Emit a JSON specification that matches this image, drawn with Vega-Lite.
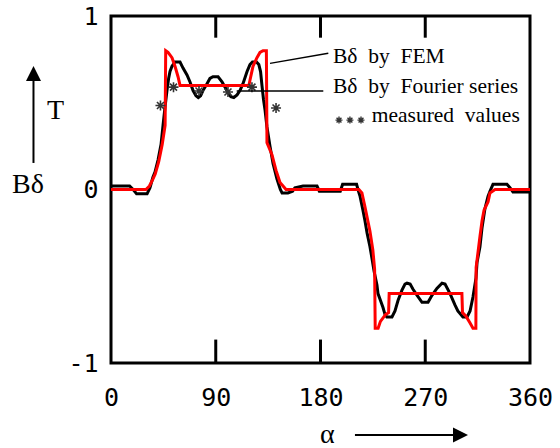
{
  "$schema": "https://vega.github.io/schema/vega-lite/v6.json",
  "width": 419,
  "height": 347,
  "autosize": {"type": "none"},
  "padding": {"left": 111, "top": 16, "right": 30, "bottom": 85},
  "background": "white",
  "config": {
    "view": {"stroke": "black", "strokeWidth": 3},
    "axis": {
      "domain": false,
      "ticks": false,
      "grid": false,
      "title": null,
      "labelFont": "DejaVu Sans Mono",
      "labelFontSize": 25,
      "labelColor": "black",
      "labelOverlap": false,
      "labelBound": false,
      "labelFlush": false
    }
  },
  "datasets": {
    "fourier": [
      {"a": 0, "b": 0.02}, {"a": 16, "b": 0.02}, {"a": 19, "b": 0.0}, {"a": 22, "b": -0.025},
      {"a": 31, "b": -0.025}, {"a": 33.5, "b": 0.01}, {"a": 36, "b": 0.07}, {"a": 37.8, "b": 0.1},
      {"a": 40.4, "b": 0.17}, {"a": 43, "b": 0.26}, {"a": 44.7, "b": 0.37}, {"a": 46.5, "b": 0.48},
      {"a": 48.1, "b": 0.57}, {"a": 49.5, "b": 0.64}, {"a": 50.7, "b": 0.68}, {"a": 52.4, "b": 0.71},
      {"a": 55, "b": 0.735}, {"a": 59.3, "b": 0.735}, {"a": 61.9, "b": 0.7}, {"a": 65.3, "b": 0.66},
      {"a": 67.9, "b": 0.62}, {"a": 70.5, "b": 0.57}, {"a": 73, "b": 0.54}, {"a": 75, "b": 0.53},
      {"a": 77, "b": 0.54}, {"a": 79, "b": 0.57}, {"a": 82.5, "b": 0.61}, {"a": 85, "b": 0.64},
      {"a": 87.6, "b": 0.65}, {"a": 92, "b": 0.65}, {"a": 95.4, "b": 0.62}, {"a": 98, "b": 0.59},
      {"a": 100.5, "b": 0.56}, {"a": 103, "b": 0.535}, {"a": 105.5, "b": 0.53}, {"a": 108.3, "b": 0.545},
      {"a": 110.8, "b": 0.57}, {"a": 113.4, "b": 0.61}, {"a": 116.9, "b": 0.68}, {"a": 119.4, "b": 0.72},
      {"a": 121.5, "b": 0.735}, {"a": 125, "b": 0.735}, {"a": 127, "b": 0.72}, {"a": 128.5, "b": 0.68},
      {"a": 129.7, "b": 0.6}, {"a": 131, "b": 0.52}, {"a": 132.3, "b": 0.46}, {"a": 134, "b": 0.36},
      {"a": 136.6, "b": 0.25}, {"a": 139.2, "b": 0.15}, {"a": 142.6, "b": 0.06}, {"a": 145.5, "b": 0.0},
      {"a": 147, "b": -0.02}, {"a": 152, "b": -0.02}, {"a": 156, "b": -0.01}, {"a": 158, "b": 0.01},
      {"a": 165, "b": 0.02}, {"a": 177, "b": 0.02}, {"a": 179, "b": -0.01}, {"a": 197, "b": -0.01},
      {"a": 199, "b": 0.03}, {"a": 211, "b": 0.03}, {"a": 212.2, "b": 0.0}, {"a": 214, "b": -0.04},
      {"a": 216.5, "b": -0.12}, {"a": 218.2, "b": -0.18}, {"a": 220, "b": -0.25}, {"a": 222.5, "b": -0.33},
      {"a": 224.3, "b": -0.4}, {"a": 226, "b": -0.47}, {"a": 228.5, "b": -0.55}, {"a": 229.4, "b": -0.6},
      {"a": 231, "b": -0.63}, {"a": 233.7, "b": -0.68}, {"a": 235.4, "b": -0.72}, {"a": 237, "b": -0.735},
      {"a": 241.4, "b": -0.735}, {"a": 244, "b": -0.7}, {"a": 246.6, "b": -0.64}, {"a": 250, "b": -0.58},
      {"a": 252.6, "b": -0.545}, {"a": 254.3, "b": -0.54}, {"a": 257, "b": -0.545}, {"a": 259.5, "b": -0.575},
      {"a": 263, "b": -0.61}, {"a": 267.2, "b": -0.65}, {"a": 272.4, "b": -0.65}, {"a": 275.8, "b": -0.61},
      {"a": 280, "b": -0.57}, {"a": 284.4, "b": -0.54}, {"a": 287, "b": -0.545}, {"a": 291.3, "b": -0.6},
      {"a": 295.5, "b": -0.665}, {"a": 298, "b": -0.7}, {"a": 302.4, "b": -0.735}, {"a": 305.9, "b": -0.735},
      {"a": 308.5, "b": -0.7}, {"a": 311, "b": -0.62}, {"a": 313.6, "b": -0.51}, {"a": 314.5, "b": -0.42},
      {"a": 317, "b": -0.33}, {"a": 318.8, "b": -0.22}, {"a": 321.3, "b": -0.11}, {"a": 323.9, "b": -0.04},
      {"a": 325.6, "b": -0.01}, {"a": 328.2, "b": 0.03}, {"a": 340.2, "b": 0.03}, {"a": 342.8, "b": 0.01},
      {"a": 345.4, "b": -0.015}, {"a": 360, "b": -0.015}
    ],
    "fem": [
      {"a": 0, "b": 0.0}, {"a": 30, "b": 0.0}, {"a": 33, "b": 0.02}, {"a": 36, "b": 0.06},
      {"a": 38, "b": 0.09}, {"a": 41, "b": 0.16}, {"a": 44, "b": 0.26}, {"a": 46.5, "b": 0.37},
      {"a": 47, "b": 0.8}, {"a": 49, "b": 0.79}, {"a": 52.4, "b": 0.76}, {"a": 55, "b": 0.71},
      {"a": 57.6, "b": 0.65}, {"a": 59.3, "b": 0.6}, {"a": 118.5, "b": 0.6}, {"a": 119.4, "b": 0.63},
      {"a": 122, "b": 0.71}, {"a": 125.4, "b": 0.76}, {"a": 128, "b": 0.79}, {"a": 130.6, "b": 0.8},
      {"a": 133.5, "b": 0.8}, {"a": 134, "b": 0.27}, {"a": 138.3, "b": 0.2}, {"a": 141.8, "b": 0.11},
      {"a": 145.2, "b": 0.04}, {"a": 150.4, "b": 0.0}, {"a": 213, "b": 0.0}, {"a": 215.6, "b": -0.02},
      {"a": 218.2, "b": -0.1}, {"a": 222.5, "b": -0.24}, {"a": 225, "b": -0.35}, {"a": 226.5, "b": -0.46},
      {"a": 227, "b": -0.8}, {"a": 229.5, "b": -0.8}, {"a": 231.5, "b": -0.76}, {"a": 236, "b": -0.72},
      {"a": 238.5, "b": -0.71}, {"a": 239, "b": -0.6}, {"a": 301.5, "b": -0.6}, {"a": 302, "b": -0.71},
      {"a": 305, "b": -0.73}, {"a": 308.5, "b": -0.77}, {"a": 311, "b": -0.8}, {"a": 313.5, "b": -0.8},
      {"a": 313.7, "b": -0.45}, {"a": 317, "b": -0.27}, {"a": 318.8, "b": -0.18}, {"a": 320.5, "b": -0.12},
      {"a": 324, "b": -0.07}, {"a": 325.6, "b": -0.02}, {"a": 330, "b": 0.0}, {"a": 360, "b": 0.0}
    ],
    "measured": [
      {"a": 42.5, "b": 0.484}, {"a": 53.7, "b": 0.59}, {"a": 75.6, "b": 0.568},
      {"a": 100.5, "b": 0.562}, {"a": 121.1, "b": 0.59}, {"a": 141.8, "b": 0.47}
    ],
    "innerTicks": [
      {"a": 90, "b": 1, "b2": 0.875}, {"a": 180, "b": 1, "b2": 0.875}, {"a": 270, "b": 1, "b2": 0.875},
      {"a": 90, "b": -1, "b2": -0.865}, {"a": 180, "b": -1, "b2": -0.865}, {"a": 270, "b": -1, "b2": -0.865}
    ],
    "leaders": [
      {"a": 136.6, "b": 0.727, "a2": 186.7, "b2": 0.785},
      {"a": 108.0, "b": 0.568, "a2": 182.4, "b2": 0.568}
    ],
    "legendText": [
      {"a": 190.7, "b": 0.728, "label": "Bδ\u00a0 by\u00a0 FEM"},
      {"a": 190.7, "b": 0.558, "label": "Bδ\u00a0 by\u00a0 Fourier series"},
      {"a": 224.0, "b": 0.387, "label": "measured\u00a0 values"}
    ],
    "legendStars": [
      {"a": 195.9, "b": 0.4}, {"a": 205.3, "b": 0.4}, {"a": 214.8, "b": 0.4}
    ],
    "arrowShafts": [
      {"a": -66.6, "b": 0.631, "a2": -66.6, "b2": 0.153},
      {"a": 209.6, "b": -1.415, "a2": 295.6, "b2": -1.415}
    ],
    "upHead": [{"a": -66.6, "b": 0.669}],
    "rightHead": [{"a": 300.3, "b": -1.415}],
    "axisNames": [
      {"a": -55.0, "b": 0.409, "label": "T"},
      {"a": -85.1, "b": -0.02, "label": "Bδ"},
      {"a": 179.6, "b": -1.461, "label": "α"}
    ]
  },
  "encoding": {
    "x": {
      "field": "a", "type": "quantitative",
      "scale": {"domain": [0, 360], "nice": false, "zero": false},
      "axis": {"values": [0, 90, 180, 270, 360], "labelPadding": 22, "labelExpr": "'' + datum.value"}
    },
    "y": {
      "field": "b", "type": "quantitative",
      "scale": {"domain": [-1, 1], "nice": false, "zero": false},
      "axis": {"values": [-1, 0, 1], "labelPadding": 13, "labelExpr": "'' + datum.value"}
    }
  },
  "layer": [
    {
      "data": {"name": "innerTicks"},
      "mark": {"type": "rule", "color": "black", "strokeWidth": 3},
      "encoding": {"y2": {"field": "b2"}}
    },
    {
      "data": {"name": "fourier"},
      "mark": {"type": "line", "color": "black", "strokeWidth": 3, "strokeJoin": "miter"},
      "encoding": {"order": {"field": "a"}}
    },
    {
      "data": {"name": "fem"},
      "mark": {"type": "line", "color": "#ff0000", "strokeWidth": 3, "strokeJoin": "miter"},
      "encoding": {"order": {"field": "a"}}
    },
    {
      "data": {"name": "measured"},
      "mark": {
        "type": "point",
        "shape": "M0,-1L0,1M-1,0L1,0M-0.7,-0.7L0.7,0.7M-0.7,0.7L0.7,-0.7",
        "filled": false, "size": 100, "stroke": "#333333", "strokeWidth": 1.6, "opacity": 1
      }
    },
    {
      "data": {"name": "leaders"},
      "mark": {"type": "rule", "color": "black", "strokeWidth": 1.5},
      "encoding": {"x2": {"field": "a2"}, "y2": {"field": "b2"}}
    },
    {
      "data": {"name": "legendText"},
      "mark": {"type": "text", "font": "Liberation Serif", "fontSize": 21.5, "align": "left", "baseline": "alphabetic", "color": "black"},
      "encoding": {"text": {"field": "label"}}
    },
    {
      "data": {"name": "legendStars"},
      "mark": {
        "type": "point",
        "shape": "M0,-1L0,1M-1,0L1,0M-0.7,-0.7L0.7,0.7M-0.7,0.7L0.7,-0.7",
        "filled": false, "size": 49, "stroke": "#333333", "strokeWidth": 1.4, "opacity": 1
      }
    },
    {
      "data": {"name": "arrowShafts"},
      "mark": {"type": "rule", "color": "black", "strokeWidth": 2},
      "encoding": {"x2": {"field": "a2"}, "y2": {"field": "b2"}}
    },
    {
      "data": {"name": "upHead"},
      "mark": {"type": "point", "shape": "M0,-1L-1,1L1,1Z", "filled": true, "size": 225, "color": "black", "opacity": 1}
    },
    {
      "data": {"name": "rightHead"},
      "mark": {"type": "point", "shape": "M1,0L-1,-1L-1,1Z", "filled": true, "size": 225, "color": "black", "opacity": 1}
    },
    {
      "data": {"name": "axisNames"},
      "mark": {"type": "text", "font": "Liberation Serif", "fontSize": 28, "align": "left", "baseline": "alphabetic", "color": "black"},
      "encoding": {"text": {"field": "label"}}
    }
  ]
}
